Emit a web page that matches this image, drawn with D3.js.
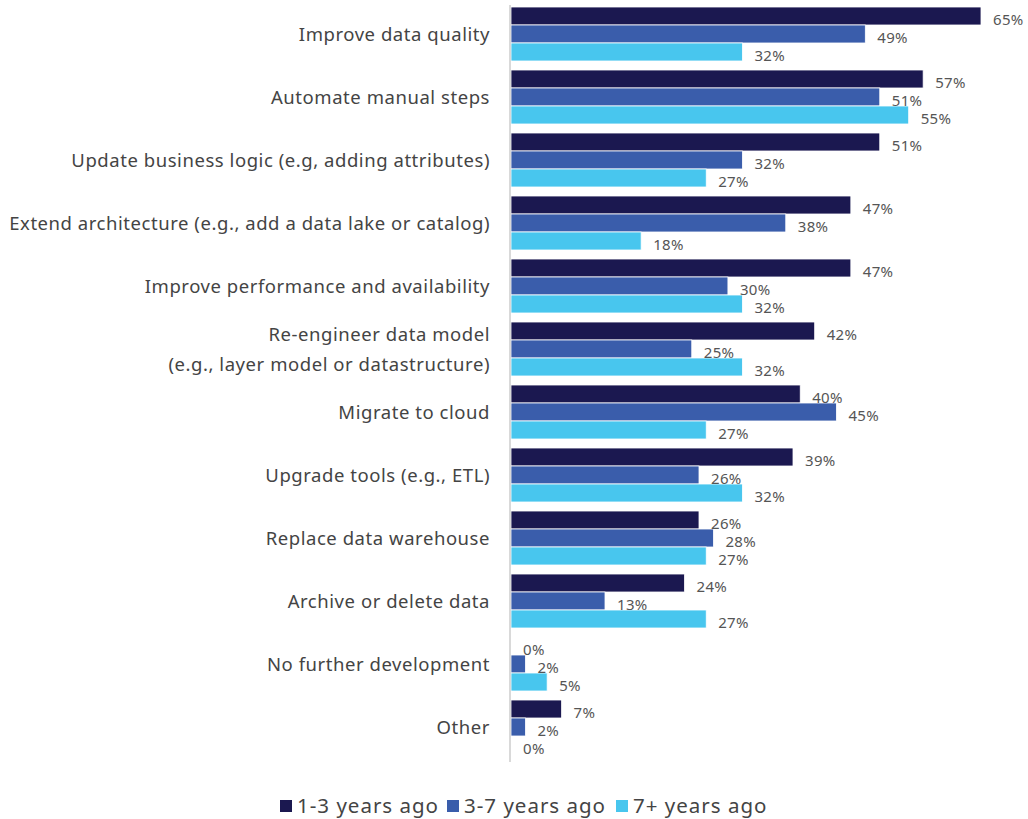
<!DOCTYPE html>
<html>
<head>
<meta charset="utf-8">
<script src="https://cdn.jsdelivr.net/npm/d3@7"></script>
<style>
  body { margin: 0; background: #fff; }
  text { font-family: "Noto Sans", sans-serif; }
</style>
</head>
<body>
<script>
const width = 1028;
const height = 819;

// Categories, top to bottom. Multi-line labels split on '|'.
const categories = [
  'Improve data quality',
  'Automate manual steps',
  'Update business logic (e.g, adding attributes)',
  'Extend architecture (e.g., add a data lake or catalog)',
  'Improve performance and availability',
  'Re-engineer data model|(e.g., layer model or datastructure)',
  'Migrate to cloud',
  'Upgrade tools (e.g., ETL)',
  'Replace data warehouse',
  'Archive or delete data',
  'No further development',
  'Other'
];

const seriesNames = ['1-3 years ago', '3-7 years ago', '7+ years ago'];
const seriesColors = ['#1b1850', '#3a5dab', '#48c6ee'];

const oneToThree = [65, 57, 51, 47, 47, 42, 40, 39, 26, 24, 0, 7];
const threeToSeven = [49, 51, 32, 38, 30, 25, 45, 26, 28, 13, 2, 2];
const sevenPlus = [32, 55, 27, 18, 32, 32, 27, 32, 27, 27, 5, 0];

const seriesValues = [oneToThree, threeToSeven, sevenPlus];

let svg = d3
  .select('body')
  .append('svg')
  .attr('width', width)
  .attr('height', height);

let xScale = d3.scaleLinear().domain([0, 65]).range([511, 981]);

let yScale = d3
  .scaleBand()
  .domain(categories)
  .range([2.5, 758.5])
  .paddingInner(0.143)
  .paddingOuter(0.0714);

let innerScale = d3
  .scaleBand()
  .domain(seriesNames)
  .range([0, yScale.bandwidth()]);

// Flatten into one row per bar.
let data = [];
categories.forEach((cat, i) => {
  seriesNames.forEach((s, j) => {
    data.push({ cat: cat, series: s, idx: j, value: seriesValues[j][i] });
  });
});

// Bars
svg
  .append('g')
  .selectAll('rect')
  .data(data)
  .join('rect')
  .attr('x', xScale(0))
  .attr('y', (d) => yScale(d.cat) + innerScale(d.series))
  .attr('width', (d) => xScale(d.value) - xScale(0))
  .attr('height', innerScale.bandwidth())
  .attr('fill', (d) => seriesColors[d.idx])
  .attr('stroke', '#fff')
  .attr('stroke-width', 0.8);

// Axis line
svg
  .append('line')
  .attr('x1', 510)
  .attr('x2', 510)
  .attr('y1', 5)
  .attr('y2', 762)
  .attr('stroke', '#d9d9d9')
  .attr('stroke-width', 2);

// Value labels
svg
  .append('g')
  .selectAll('text')
  .data(data)
  .join('text')
  .attr('x', (d) => xScale(d.value) + 12)
  .attr('y', (d) => yScale(d.cat) + innerScale(d.series) + innerScale.bandwidth() / 2 + 9)
  .attr('font-size', 15)
  .attr('letter-spacing', 0.3)
  .attr('fill', '#555')
  .text((d) => d.value + '%');

// Category labels
let catLabels = svg
  .append('g')
  .selectAll('text')
  .data(categories)
  .join('text')
  .attr('text-anchor', 'end')
  .attr('font-size', 18.5)
  .attr('letter-spacing', 0.55)
  .attr('fill', '#444');

catLabels.each(function (d) {
  let lines = d.split('|');
  let cy = yScale(d) + yScale.bandwidth() / 2;
  let lineH = 30;
  let top = cy - ((lines.length - 1) * lineH) / 2;
  d3.select(this)
    .selectAll('tspan')
    .data(lines)
    .join('tspan')
    .attr('x', 490)
    .attr('y', (l, k) => top + k * lineH + 7)
    .text((l) => l);
});

// Legend
let legendX = [280, 447, 616];
let legend = svg
  .append('g')
  .selectAll('g')
  .data(seriesNames)
  .join('g')
  .attr('transform', (d, i) => `translate(${legendX[i]}, 800)`);

legend
  .append('rect')
  .attr('width', 12)
  .attr('height', 12)
  .attr('fill', (d, i) => seriesColors[i]);

legend
  .append('text')
  .attr('x', 17)
  .attr('y', 13)
  .attr('font-size', 20.5)
  .attr('letter-spacing', 1)
  .attr('fill', '#444')
  .text((d) => d);
</script>
</body>
</html>
